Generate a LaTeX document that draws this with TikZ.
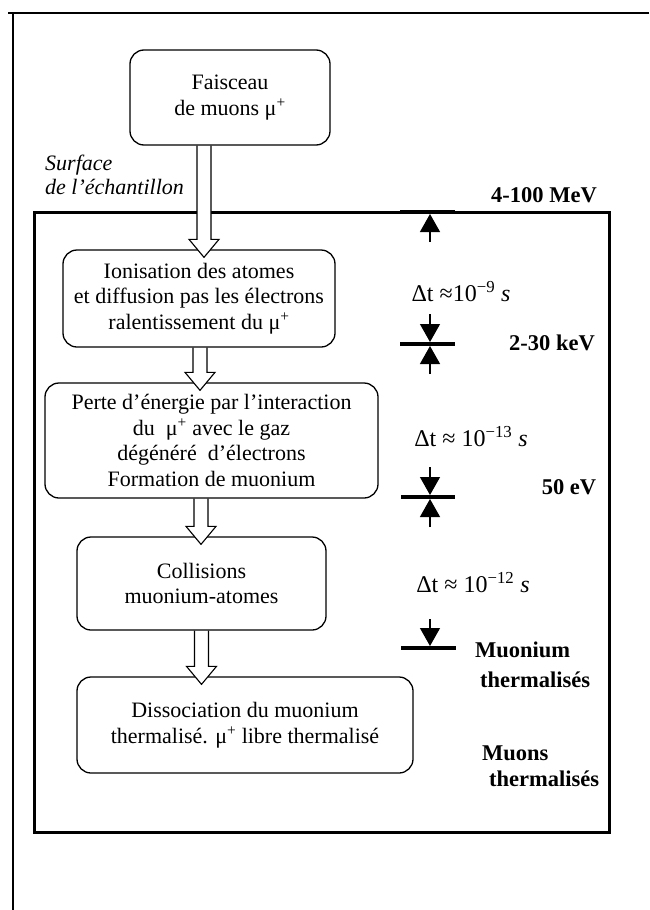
\documentclass[tikz,border=0pt]{standalone}
\usepackage{fontspec}
\setmainfont{Liberation Serif}
\usetikzlibrary{arrows.meta,calc}
\newcommand\fatarrow[3]{%
  \coordinate (ax) at (#3,0);
  \fill[white] ($(#1.south -| ax)+(-7,1)$) -- ($(#2.north -| ax)+(-7,-10)$) -- ($(#2.north -| ax)+(-15,-10)$)
     -- ($(#2.north -| ax)+(0,8)$) -- ($(#2.north -| ax)+(15,-10)$) -- ($(#2.north -| ax)+(7,-10)$) -- ($(#1.south -| ax)+(7,1)$) -- cycle;
  \draw[line width=1.1pt, line join=miter] ($(#1.south -| ax)+(-7,0)$) -- ($(#2.north -| ax)+(-7,-10)$) -- ($(#2.north -| ax)+(-15,-10)$)
     -- ($(#2.north -| ax)+(0,8)$) -- ($(#2.north -| ax)+(15,-10)$) -- ($(#2.north -| ax)+(7,-10)$) -- ($(#1.south -| ax)+(7,0)$);
}
\begin{document}
\begin{tikzpicture}[x=1pt,y=-1pt,
  proc/.style={draw, line width=1.3pt, rounded corners=14pt, align=center, inner sep=0pt,
    font=\fontsize{22}{25.5}\selectfont},
  bold/.style={font=\fontsize{22.5}{25}\selectfont\bfseries, inner sep=0pt},
  dt/.style={font=\fontsize{24}{28}\selectfont, inner sep=0pt},
  bar/.style={line width=4.5pt},
  tip/.style={line width=1.3pt, -{Triangle[width=20pt,length=18pt]}}]
\useasboundingbox (0,0) rectangle (649,910);
% outer frame
\draw[line width=1.3pt] (649,13) -- (8,13) -- (13,13) -- (13,910);
% sample box
\draw[line width=3pt] (34,212) rectangle (609,832);
% process boxes
\node[proc, minimum width=200pt, minimum height=95pt] (b1) at (230,97.5) {Faisceau\\de muons μ\textsuperscript{+}};
\node[proc, minimum width=272pt, minimum height=97pt] (b2) at (199,298.5) {Ionisation des atomes\\et diffusion pas les électrons\\ralentissement du μ\textsuperscript{+}};
\node[proc, minimum width=333pt, minimum height=115pt] (b3) at (211.5,440.5) {Perte d’énergie par l’interaction\\du~ μ\textsuperscript{+} avec le gaz\\dégénéré~ d’électrons\hspace*{52pt}\\Formation de muonium};
\node[proc, minimum width=249pt, minimum height=93pt] (b4) at (201.5,583.5) {Collisions\\muonium-atomes};
\node[proc, minimum width=336pt, minimum height=96pt] (b5) at (245,725) {Dissociation du muonium\\thermalisé. μ\textsuperscript{+} libre thermalisé};
% hollow arrows
\fatarrow{b1}{b2}{204}
\fatarrow{b2}{b3}{200}
\fatarrow{b3}{b4}{201}
\fatarrow{b4}{b5}{201.5}
% surface label
\node[font=\fontsize{22}{24}\selectfont\itshape, align=left, anchor=west, inner sep=0pt] (surf) at (45,175) {Surface\\de l’échantillon};
% energy labels
\node[bold] (e1) at (544,195) {4-100 MeV};
\node[bold] (e2) at (552,343) {2-30 keV};
\node[bold] (e3) at (569,487) {50 eV};
\node[bold, anchor=west] (m1) at (475,650) {Muonium};
\node[bold, anchor=west] (m2) at (480,680) {thermalisés};
\node[bold, anchor=west] (n1) at (482,753) {Muons};
\node[bold, anchor=west] (n2) at (489,779) {thermalisés};
% time labels
\node[dt] (t1) at (461,292) {Δt ≈10\textsuperscript{−9} \textit{s}};
\node[dt] (t2) at (471,437) {Δt ≈ 10\textsuperscript{−13} \textit{s}};
\node[dt] (t3) at (473,583) {Δt ≈ 10\textsuperscript{−12} \textit{s}};
% markers
\coordinate (k1) at (430,212);
\coordinate (k2) at (430,344);
\coordinate (k3) at (430,497);
\coordinate (k4) at (430,648);
\draw[bar] ($(k1)+(-30,0)$) -- ($(k1)+(25,0)$);
\draw[tip] ($(k1)+(0,30)$) -- ($(k1)+(0,2)$);
\draw[bar] ($(k2)+(-30,0)$) -- ($(k2)+(25,0)$);
\draw[tip] ($(k2)+(0,-30)$) -- ($(k2)+(0,-2)$);
\draw[tip] ($(k2)+(0,30)$) -- ($(k2)+(0,2)$);
\draw[bar] ($(k3)+(-29,0)$) -- ($(k3)+(25,0)$);
\draw[tip] ($(k3)+(0,-30)$) -- ($(k3)+(0,-2)$);
\draw[tip] ($(k3)+(0,30)$) -- ($(k3)+(0,2)$);
\draw[bar] ($(k4)+(-29,0)$) -- ($(k4)+(26,0)$);
\draw[tip] ($(k4)+(0,-29)$) -- ($(k4)+(0,-2)$);
\end{tikzpicture}
\end{document}
